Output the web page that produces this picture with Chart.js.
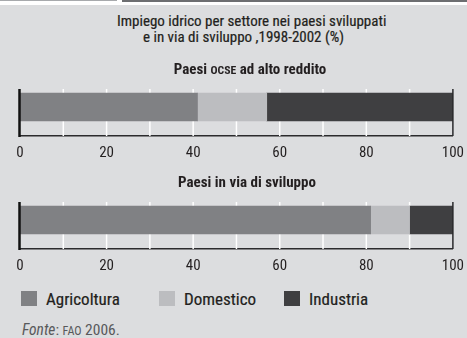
<!DOCTYPE html>
<html lang="it">
<head>
<meta charset="utf-8">
<title>Impiego idrico per settore</title>
<script src="https://cdn.jsdelivr.net/npm/chart.js@4/dist/chart.umd.min.js"></script>
<style>
  html, body { margin: 0; padding: 0; }
  body {
    width: 467px; height: 338px; position: relative; overflow: hidden;
    background: #dcdddf; color: #231f20;
    font-family: "Roboto Condensed", "DejaVu Sans Condensed", sans-serif;
  }
  .band { position: absolute; left: 0; top: 0; width: 467px; height: 5px; background: #fff; }
  .rule-l { position: absolute; left: 0; top: 0; width: 117px; height: 1px; background: #a7a9ac; }
  .rule-r { position: absolute; left: 122px; top: 0; width: 345px; height: 2px; background: #6d6e71; }
  .txt { position: absolute; white-space: nowrap; z-index: 2; }
  .title { font-size: 15px; line-height: 15px; -webkit-text-stroke: 0.2px #231f20; }
  .sub { font-size: 15px; line-height: 15px; font-weight: bold; transform: translateX(-50%); }
  .sc { font-size: 0.78em; }
  canvas.panel { position: absolute; left: 0; z-index: 1; }
  #legend { position: absolute; left: 21px; top: 291px; display: flex; font-size: 17px; line-height: 17px; z-index: 2; -webkit-text-stroke: 0.2px #231f20; }
  #legend .item { display: flex; align-items: flex-start; }
  #legend .box { width: 16px; height: 15px; margin-right: 9px; }
  #source { position: absolute; left: 22px; top: 323px; font-size: 15.5px; line-height: 15.5px; color: #58595b; }
</style>
</head>
<body>
<div class="band"></div>
<div class="rule-l"></div>
<div class="rule-r"></div>

<div class="txt title" style="left:117px; top:14px;">Impiego idrico per settore nei paesi sviluppati</div>
<div class="txt title" style="left:143px; top:30px;">e in via di sviluppo ,1998-2002 (%)</div>
<div class="txt sub" id="sub0" style="left:250px; top:62px;"></div>
<div class="txt sub" id="sub1" style="left:247px; top:175px;"></div>

<canvas class="panel" id="chartOcse" width="472" height="100" style="top:70px;"></canvas>
<canvas class="panel" id="chartSviluppo" width="472" height="100" style="top:183px;"></canvas>

<div id="legend"></div>
<div id="source"><i>Fonte</i>: <span class="sc">FAO</span> 2006.</div>

<script>
// gruppi di paesi e settori
const groups = ['Paesi OCSE ad alto reddito', 'Paesi in via di sviluppo'];
const sectors = ['Agricoltura', 'Domestico', 'Industria'];

// quote percentuali per settore (stesso ordine di sectors)
const ocseShares = [41, 16, 43];
const sviluppoShares = [81, 9, 10];

const axisTicks = [0, 20, 40, 60, 80, 100];
const gridValues = [10, 20, 30, 40, 50, 60, 70, 80, 90];

const sectorColors = ['#808184', '#bcbdc0', '#3f3f41'];
const fontFamily = '"Roboto Condensed", "DejaVu Sans Condensed", sans-serif';
const legendWidths = [138, 125, 120];

// titoli dei pannelli (OCSE in maiuscoletto)
document.getElementById('sub0').innerHTML = groups[0].replace('OCSE', '<span class="sc">OCSE</span>');
document.getElementById('sub1').textContent = groups[1];

function gridTop(chart) {
  const bar = chart.getDatasetMeta(0).data[0];
  return Math.round(bar.y - bar.height / 2) - 4;
}

// linee bianche della griglia dietro le barre, bordi scuri a 0 e 100 sopra
const panelGrid = {
  id: 'panelGrid',
  beforeDatasetsDraw(chart) {
    const { ctx, chartArea, scales: { x } } = chart;
    const top = gridTop(chart);
    ctx.save();
    ctx.strokeStyle = '#ffffff';
    ctx.lineWidth = 1.5;
    gridValues.forEach(v => {
      const px = x.getPixelForValue(v);
      ctx.beginPath();
      ctx.moveTo(px, top);
      ctx.lineTo(px, chartArea.bottom);
      ctx.stroke();
    });
    ctx.restore();
  },
  afterDatasetsDraw(chart) {
    const { ctx, chartArea, scales: { x } } = chart;
    const top = gridTop(chart);
    ctx.save();
    ctx.strokeStyle = '#2b2b2d';
    ctx.lineWidth = 1.5;
    const right = x.getPixelForValue(axisTicks[axisTicks.length - 1]);
    ctx.beginPath();
    ctx.moveTo(right, top);
    ctx.lineTo(right, chartArea.bottom);
    ctx.stroke();
    ctx.strokeStyle = '#111111';
    ctx.lineWidth = 2.5;
    const left = x.getPixelForValue(axisTicks[0]) - 0.5;
    ctx.beginPath();
    ctx.moveTo(left, top);
    ctx.lineTo(left, chartArea.bottom + 1);
    ctx.stroke();
    ctx.restore();
  }
};

function drawPanel(canvasId, group, shares) {
  const ctx = document.getElementById(canvasId).getContext('2d');
  return new Chart(ctx, {
    type: 'bar',
    data: {
      labels: [group],
      datasets: sectors.map((name, i) => ({
        label: name,
        data: [shares[i]],
        backgroundColor: sectorColors[i],
        borderWidth: 0,
        barThickness: 28
      }))
    },
    options: {
      indexAxis: 'y',
      responsive: false,
      animation: false,
      layout: { padding: { left: 20, right: 1, top: 8, bottom: 0 } },
      plugins: { legend: { display: false }, tooltip: { enabled: false } },
      scales: {
        x: {
          stacked: true,
          min: axisTicks[0],
          max: axisTicks[axisTicks.length - 1],
          grid: { display: false, drawTicks: false },
          border: { display: true, color: '#2b2b2d', width: 1.5 },
          afterBuildTicks: axis => { axis.ticks = axisTicks.map(v => ({ value: v })); },
          ticks: {
            color: '#231f20',
            padding: 8,
            maxRotation: 0,
            font: { family: fontFamily, size: 15 }
          }
        },
        y: { stacked: true, display: false }
      }
    },
    plugins: [panelGrid]
  });
}

drawPanel('chartOcse', groups[0], ocseShares);
drawPanel('chartSviluppo', groups[1], sviluppoShares);

// legenda
const legend = document.getElementById('legend');
sectors.forEach((name, i) => {
  const item = document.createElement('div');
  item.className = 'item';
  item.style.width = legendWidths[i] + 'px';
  const box = document.createElement('span');
  box.className = 'box';
  box.style.background = sectorColors[i];
  const label = document.createElement('span');
  label.textContent = name;
  item.appendChild(box);
  item.appendChild(label);
  legend.appendChild(item);
});
</script>
</body>
</html>
